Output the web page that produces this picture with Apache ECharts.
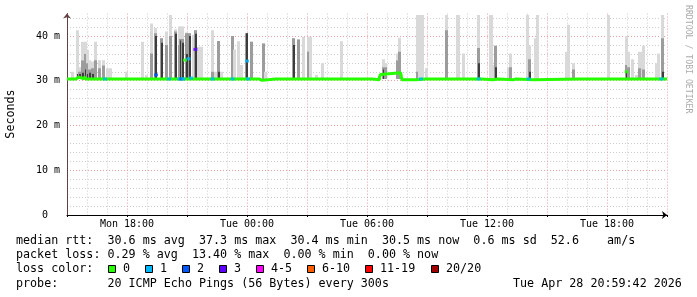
<!DOCTYPE html>
<html><head><meta charset="utf-8">
<script src="https://cdn.jsdelivr.net/npm/echarts@6/dist/echarts.min.js"></script>
<style>html,body{margin:0;padding:0;background:#fff}#c{width:697px;height:297px}</style>
</head><body><div id="c"></div>
<script>
// ---- axis ticks ----
var tickHours = [3, 9, 15, 21, 27];
var tickLabels = ['Mon 18:00', 'Tue 00:00', 'Tue 06:00', 'Tue 12:00', 'Tue 18:00'];
var yTickValues = [0, 10, 20, 30, 40];
var yTickLabels = ['0\u00a0\u00a0', '10 m', '20 m', '30 m', '40 m'];

// ---- smoke (hours since Mon 15:00, ms) ----
var smokeHours = [0.28,0.50,0.62,0.78,0.90,1.00,1.12,1.25,1.42,1.62,1.82,2.03,2.17,2.95,3.75,3.95,4.20,4.42,4.70,4.95,5.17,5.40,5.60,5.68,5.78,5.95,6.12,6.30,6.42,6.55,6.72,7.25,7.40,7.58,7.70,8.25,8.37,8.58,8.70,8.98,9.20,9.83,9.92,11.33,11.58,11.83,12.05,12.17,12.45,12.78,13.70,15.82,15.92,16.53,16.62,17.53,17.62,17.75,17.95,18.95,19.50,19.58,19.82,20.58,21.15,21.23,21.33,21.42,22.08,22.17,23.00,23.12,23.42,23.50,24.98,25.08,25.32,27.08,27.98,28.08,28.25,28.45,28.62,28.75,28.83,29.45,29.55,29.78];
var smokeMax   = [32.0,41.3,33.0,38.7,38.7,36.9,34.6,34.3,38.7,34.6,34.6,32.8,32.8,32.0,38.7,31.3,42.8,41.8,39.5,41.0,44.7,41.5,42.1,42.1,42.1,40.8,40.6,40.3,41.3,37.6,37.6,41.3,32.0,38.9,32.0,40.0,37.0,38.8,33.5,40.6,38.7,38.3,32.0,39.5,39.2,39.8,39.8,39.8,31.3,33.9,38.8,34.8,33.9,36.1,39.6,44.7,44.7,44.7,32.8,44.7,44.7,44.7,36.1,44.7,44.7,44.7,33.5,37.8,33.0,36.1,44.7,37.8,39.5,44.7,36.5,42.5,33.9,44.7,40.0,36.5,34.8,31.3,36.5,36.5,37.8,33.9,36.1,44.7];
var smokeMid   = [0,0,32.0,34.5,36.0,33.9,32.5,32.8,34.6,32.8,33.4,0,0,0,0,0,36.1,40.6,39.5,38.0,40.0,41.0,38.0,39.3,39.3,40.6,40.6,0,41.3,0,0,32.0,0,38.9,0,40.0,0,0,0,40.6,38.7,38.3,0,39.5,39.2,0,36.5,0,0,0,0,33.0,33.0,34.5,36.5,32.0,0,0,0,41.3,0,0,0,37.3,0,0,0,37.8,0,33.0,0,34.8,0,0,0,0,32.5,0,33.5,33.0,0,0,32.8,0,32.5,0,0,39.5];
var smokeDark  = [0,31.5,31.5,31.8,32.5,31.5,31.8,31.5,0,0,0,0,0,0,0,0,0,40.0,38.5,0,0,40.5,0,39.0,38.5,36.0,40.0,0,40.5,0,0,0,0,32.0,0,0,0,0,0,40.6,0,0,0,38.0,0,0,0,0,0,0,0,32.5,0,0,0,0,0,0,0,0,0,0,0,33.9,0,0,0,33.0,0,0,0,32.0,0,0,0,0,0,0,32.0,0,0,0,0,0,0,0,0,32.0];

// ---- median rtt (step line: value holds from hour until next hour) ----
var medianHours  = [0,0.45,0.58,0.85,0.95,1.22,1.32,2.85,2.95,3.78,3.88,4.53,4.63,5.28,5.38,6.60,6.70,7.15,7.25,7.70,7.80,8.08,8.18,8.45,8.55,9.60,9.75,10.45,10.55,10.95,11.05,11.45,11.55,13.10,13.20,13.60,13.70,14.10,14.20,15.25,15.62,15.68,15.72,16.68,16.75,17.45,17.95,18.05,18.80,18.90,20.70,21.30,21.55,22.30,22.45,23.35,25.55,25.65,30];
var medianValues = [30.4,30.8,30.4,30.9,30.4,30.1,30.4,30.1,30.4,30.1,30.4,30.1,30.4,30.1,30.4,30.1,30.4,30.1,30.4,30.1,30.4,30.1,30.4,30.1,30.4,30.1,30.4,30.1,30.4,30.1,30.4,30.1,30.4,30.1,30.4,30.1,30.4,30.1,30.4,30.2,30.8,31.4,31.8,31.4,30.2,30.4,30.1,30.4,30.1,30.4,30.2,30.4,30.2,30.4,30.2,30.4,30.1,30.4,30.4];

// ---- median samples with packet loss (loss level index) ----
var lossHours  = [1.90,4.45,5.10,5.62,5.72,5.82,5.90,6.08,6.20,6.42,7.28,8.28,9.00,9.05,17.70,20.58,23.08,27.98,29.72];
var lossValues = [30.4,31.3,30.4,30.4,30.4,30.4,34.6,34.9,30.6,37.0,30.4,30.4,34.4,30.4,30.4,30.4,30.4,32.0,30.4];
var lossLevels = [1,2,1,1,2,1,0,1,1,3,1,1,1,1,1,1,1,0,1];

// ---- legend ----
var lossNames = ['0', '1', '2', '3', '4-5', '6-10', '11-19', '20/20'];
var statLine1 = 'median rtt:  30.6 ms avg  37.3 ms max  30.4 ms min  30.5 ms now  0.6 ms sd  52.6    am/s';
var statLine2 = 'packet loss: 0.29 % avg  13.40 % max  0.00 % min  0.00 % now';
var statLine3 = 'loss color:';
var statLine4 = 'probe:       20 ICMP Echo Pings (56 Bytes) every 300s';
var stampText = 'Tue Apr 28 20:59:42 2026';
var yTitle = 'Seconds';
var sideText = 'RRDTOOL / TOBI OETIKER';

// ---------------------------------------------------------------
var FONT = '"DejaVu Sans Mono", monospace';
var lossColors = ['#26ff00', '#00b8ff', '#0059ff', '#5e00ff', '#ff00ff', '#ff5e00', '#ff0000', '#a10000'];
var RED = '#e8a0a0', GRAY = '#cccccc';
var smokeBase = 30.4;

var smokeData = smokeHours.map(function (h, i) { return [h, smokeMax[i], smokeMid[i], smokeDark[i]]; });
var medianData = medianHours.map(function (h, i) { return [h, medianValues[i]]; });
var lossData = lossHours.map(function (h, i) {
  return { value: [h, lossValues[i]], itemStyle: { color: lossColors[lossLevels[i]] } };
});

function renderSmoke(params, api) {
  var h = api.value(0);
  var levels = [[api.value(1), '#d9d9d9'], [api.value(2), '#9c9c9c'], [api.value(3), '#3c3c3c']];
  var base = api.coord([h, smokeBase]);
  var w = 3;
  var x = Math.round(base[0] - w / 2);
  var children = [];
  levels.forEach(function (l, k) {
    if (l[0] > smokeBase) {
      var t = api.coord([h, l[0]]);
      var ww = k === 2 ? 2 : w;
      children.push({ type: 'rect', shape: { x: x + (w - ww), y: t[1], width: ww, height: base[1] - t[1] }, style: { fill: l[1] } });
    }
  });
  return { type: 'group', children: children };
}

var graphics = [];
function txt(x, y, s, size, extra) {
  var st = { text: s, font: (size || 11.7) + 'px ' + FONT, fill: '#000', textAlign: 'left', textVerticalAlign: 'middle' };
  if (extra) for (var k in extra) st[k] = extra[k];
  graphics.push({ type: 'text', x: x, y: y, style: st, silent: true });
}
txt(16, 241, statLine1);
txt(16, 255, statLine2);
txt(16, 269, statLine3);
txt(16, 283.5, statLine4);
txt(513, 283.5, stampText);
var bx = 108;
lossNames.forEach(function (n, i) {
  graphics.push({ type: 'rect', shape: { x: Math.round(bx) + 0.5, y: 265.5, width: 7, height: 7 }, style: { fill: lossColors[i], stroke: '#000', lineWidth: 1 } });
  txt(Math.round(bx) + 15, 269, n);
  bx += 16 + n.length * 7.04 + 14;
});
graphics.push({ type: 'text', x: 11, y: 114, rotation: Math.PI / 2,
  style: { text: yTitle, font: '11.7px ' + FONT, fill: '#000', textAlign: 'center', textVerticalAlign: 'middle' } });
graphics.push({ type: 'text', x: 688, y: 5, rotation: -Math.PI / 2,
  style: { text: sideText, font: '8.2px ' + FONT, fill: '#aaaaaa', textAlign: 'left', textVerticalAlign: 'middle' } });

var chart = echarts.init(document.getElementById('c'));
chart.setOption({
  animation: false,
  backgroundColor: '#fff',
  grid: { left: 67, right: 30, top: 13.6, bottom: 82 },
  xAxis: {
    type: 'value', min: 0, max: 30, interval: 3, z: 2,
    axisLine: { show: true, onZero: false, lineStyle: { color: '#000', width: 1 }, symbol: ['none', 'arrow'], symbolSize: [6, 5] },
    axisTick: { show: true, length: 2, lineStyle: { color: '#000' } },
    axisLabel: {
      fontFamily: FONT, fontSize: 10, color: '#000', margin: 4,
      formatter: function (v) { var i = tickHours.indexOf(Math.round(v)); return i >= 0 ? tickLabels[i] : ''; }
    },
    splitLine: { show: true, showMinLine: false, showMaxLine: true, lineStyle: { color: RED, type: [1, 2], width: 1 } },
    minorTick: { show: false, splitNumber: 3 },
    minorSplitLine: { show: true, lineStyle: { color: GRAY, type: [1, 2], width: 1 } }
  },
  yAxis: {
    type: 'value', min: 0, max: 45, interval: 2, z: 1,
    axisLine: { show: true, lineStyle: { color: '#604040', width: 1 }, symbol: ['none', 'arrow'], symbolSize: [6, 5] },
    axisTick: { show: false },
    axisLabel: {
      fontFamily: FONT, fontSize: 10, color: '#000', margin: 7,
      formatter: function (v) { var i = yTickValues.indexOf(Math.round(v * 100) / 100); return i >= 0 ? yTickLabels[i] : ''; }
    },
    splitLine: { show: true, showMinLine: true, showMaxLine: false, lineStyle: { color: [RED, GRAY, GRAY, GRAY, GRAY], type: [1, 2], width: 1 } }
  },
  graphic: graphics,
  series: [
    { type: 'custom', z: 3, renderItem: renderSmoke, data: smokeData, encode: { x: 0, y: [1, 2, 3] }, clip: true, silent: true },
    { type: 'line', z: 4, step: 'end', data: medianData, showSymbol: false, lineStyle: { color: lossColors[0], width: 3 }, silent: true },
    { type: 'scatter', z: 5, data: lossData, symbol: 'rect', symbolSize: [4, 3], silent: true }
  ]
});
</script>
</body></html>
